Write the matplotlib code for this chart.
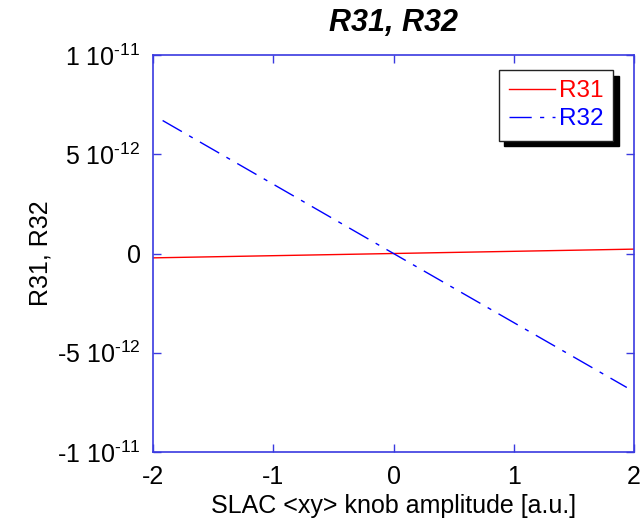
import matplotlib

matplotlib.use("Agg")

import matplotlib.pyplot as plt
from matplotlib.ticker import FuncFormatter

plt.rcParams["font.family"] = ["Liberation Sans", "DejaVu Sans"]
plt.rcParams["mathtext.fontset"] = "custom"
plt.rcParams["mathtext.rm"] = "Liberation Sans"
plt.rcParams["mathtext.default"] = "regular"
plt.rcParams["axes.unicode_minus"] = False

# knob amplitude [a.u.] and response values
x_r31 = [-2.0, 2.0]
r31 = [-0.22e-12, 0.22e-12]
x_r32 = [-1.92, 0.0, 1.94]
r32 = [6.7e-12, 0.0, -6.75e-12]
x_ticks = [-2, -1, 0, 1, 2]
y_ticks = [-1e-11, -5e-12, 0, 5e-12, 1e-11]

FRAME = "#3a3ae0"


def sci_label(v, pos):
    if v == 0:
        return "0"
    exp = int(f"{v:e}".split("e")[1])
    mant = v / 10 ** exp
    return f"{mant:g} 10$^{{\\text{{{exp}}}}}$"


fig = plt.figure(figsize=(6.41, 5.26), dpi=100)
ax = fig.add_axes([153 / 641, 1 - 452 / 526, 481 / 641, 397 / 526])

ax.plot(x_r31, r31, color="red", linewidth=1.0, label="R31")
ax.plot(x_r32, r32, color="blue", linewidth=1.0, linestyle=(0, (16, 6, 3, 6)), label="R32")

ax.set_xlim(-2, 2)
ax.set_ylim(-1e-11, 1e-11)
ax.set_xticks(x_ticks)
ax.set_yticks(y_ticks)
ax.yaxis.set_major_formatter(FuncFormatter(sci_label))
ax.tick_params(direction="in", length=6, width=1, color=FRAME, labelsize=18,
               top=True, right=True)
ax.tick_params(axis="y", pad=9)
ax.tick_params(axis="x", pad=9)
for spine in ax.spines.values():
    spine.set_color(FRAME)
    spine.set_linewidth(1.2)

ax.set_xlabel("SLAC <xy> knob amplitude [a.u.]", fontsize=18, labelpad=4)
ax.set_ylabel("R31, R32", fontsize=18, labelpad=3)
ax.set_title("R31, R32", fontsize=22, fontweight="bold", fontstyle="italic", pad=17)

leg = ax.legend(loc="upper right", bbox_to_anchor=(0.957, 0.962), fontsize=17.5,
                fancybox=False, edgecolor="#222222", framealpha=1,
                shadow={"color": "black", "alpha": 1.0, "ox": 4, "oy": -4},
                handlelength=1.9, borderpad=0.42, labelspacing=0.25, handletextpad=0.15,
                borderaxespad=0)
leg.get_frame().set_linewidth(1.0)
for text, color in zip(leg.get_texts(), ["red", "blue"]):
    text.set_color(color)

fig.savefig("out.png", dpi=100)
